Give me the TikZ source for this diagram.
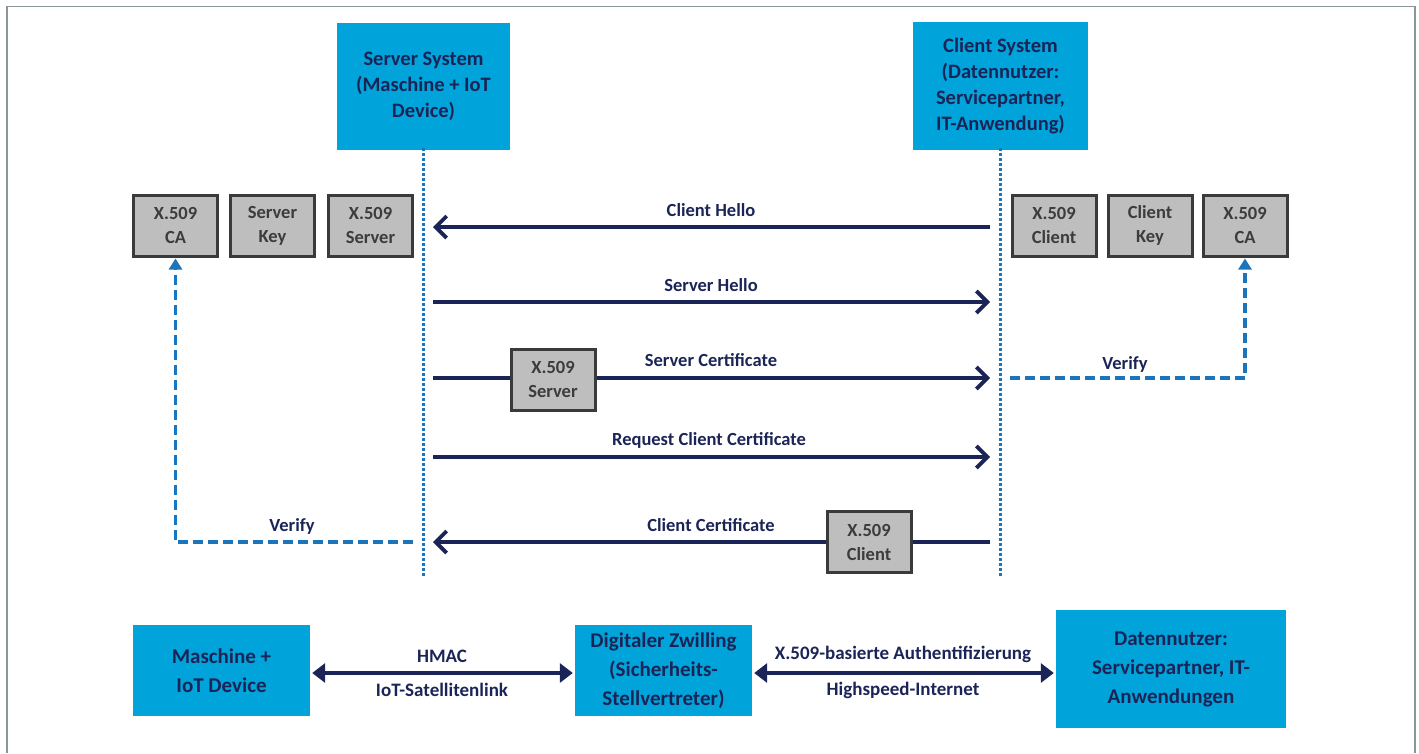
\documentclass[tikz,border=0pt]{standalone}
\usepackage{fontspec}
\setmainfont{Carlito}
\usetikzlibrary{arrows.meta}
\definecolor{cyanbox}{HTML}{00A3DA}
\definecolor{navy}{HTML}{1B2456}
\definecolor{grayfill}{HTML}{BEBEBE}
\definecolor{grayline}{HTML}{3A3A3A}
\definecolor{graytext}{HTML}{3C3C3C}
\definecolor{dashblue}{HTML}{1A75BC}
\definecolor{framegray}{HTML}{8C959A}
\begin{document}
\begin{tikzpicture}[x=1pt,y=-1pt,
  sysbox/.style={fill=cyanbox, draw=none, text=navy, align=center, inner sep=0pt,
    font=\bfseries\fontsize{20.5}{26}\selectfont},
  bottombox/.style={fill=cyanbox, draw=none, text=navy, align=center, inner sep=0pt,
    font=\bfseries\fontsize{21}{29}\selectfont},
  certbox/.style={fill=grayfill, draw=grayline, line width=3pt, text=graytext, align=center,
    inner sep=0pt, minimum width=84, minimum height=61,
    font=\bfseries\fontsize{18.5}{24}\selectfont},
  lifeline/.style={draw=dashblue, line width=3pt, dash pattern=on 2.5pt off 2.5pt},
  msg/.style={draw=navy, line width=3.8pt},
  msgtip/.style={-{Straight Barb[length=11pt,width=22pt,line width=3.8pt]}},
  verify/.style={draw=dashblue, line width=3.5pt, dash pattern=on 10pt off 5pt,
    -{Triangle[length=11pt,width=13pt]}},
  dbl/.style={draw=navy, line width=4.5pt, {Triangle[length=13pt,width=19pt]}-{Triangle[length=13pt,width=19pt]}},
  lbl/.style={text=navy, font=\bfseries\fontsize{18.5}{22}\selectfont, inner sep=0pt},
  blbl/.style={text=navy, font=\bfseries\fontsize{19}{22}\selectfont, inner sep=0pt}
]
\useasboundingbox (0,0) rectangle (1419,753);
\draw[framegray, line width=1.6pt] (7,753) -- (7,6.5) -- (1415,6.5) -- (1415,753);

% system boxes
\node[sysbox, minimum width=173, minimum height=127] (srv) at (423.5,86.5)
  {Server System\\(Maschine + IoT\\Device)};
\node[sysbox, minimum width=175, minimum height=128] (cli) at (1000.5,86)
  {Client System\\(Datennutzer:\\Servicepartner,\\IT-Anwendung)};

% lifelines
\coordinate (srvend) at (423.5,577);
\coordinate (cliend) at (1000.5,577);
\draw[lifeline] ([yshift=2pt]srv.south) -- (srvend);
\draw[lifeline] ([yshift=2pt]cli.south) -- (cliend);

% certificate boxes
\node[certbox] (caL) at (175.5,225.5) {X.509\\CA};
\node[certbox] (skey) at (272.5,225.5) {Server\\Key};
\node[certbox] (xsrv) at (370.5,225.5) {X.509\\Server};
\node[certbox] (xcli) at (1054,225.5) {X.509\\Client};
\node[certbox] (ckey) at (1150,225.5) {Client\\Key};
\node[certbox] (caR) at (1245,225.5) {X.509\\CA};

% message coordinates
\coordinate (s1) at (433,227); \coordinate (c1) at (990,227);
\coordinate (s2) at (433,302); \coordinate (c2) at (990,302);
\coordinate (s3) at (433,378); \coordinate (c3) at (990,378);
\coordinate (s4) at (433,457); \coordinate (c4) at (990,457);
\coordinate (s5) at (433,542); \coordinate (c5) at (990,542);

\draw[msg, msgtip] (c1) -- (s1);
\node[lbl] (l1) at (711,210) {Client Hello};
\draw[msg, msgtip] (s2) -- (c2);
\node[lbl] (l2) at (711,285) {Server Hello};
\draw[msg, msgtip] (s3) -- (c3);
\node[certbox] (xsrv2) at (553,379.5) {X.509\\Server};
\node[lbl] (l3) at (711,360) {Server Certificate};
\draw[msg, msgtip] (s4) -- (c4);
\node[lbl] (l4) at (709,440) {Request Client Certificate};
\draw[msg, msgtip] (c5) -- (s5);
\node[certbox] (xcli2) at (869,542) {X.509\\Client};
\node[lbl] (l5) at (711,525) {Client Certificate};

% verify
\coordinate (v1) at (413,542);
\coordinate (v2) at (1010,378);
\draw[verify] (v1) -| ([yshift=-1pt]caL.south);
\node[lbl] (vl1) at (292,526) {Verify};
\draw[verify] (v2) -| ([yshift=-1pt]caR.south);
\node[lbl] (vl2) at (1125,364) {Verify};

% bottom row
\node[bottombox, minimum width=177, minimum height=91] (mach) at (221.5,670.5)
  {Maschine +\\IoT Device};
\node[bottombox, minimum width=177, minimum height=91] (dz) at (663.5,670.5)
  {Digitaler Zwilling\\(Sicherheits-\\Stellvertreter)};
\node[bottombox, minimum width=230, minimum height=118] (dn) at (1171,669)
  {Datennutzer:\\Servicepartner, IT-\\Anwendungen};
\draw[dbl] ([xshift=2pt]mach.east |- 0,673) -- ([xshift=-2pt]dz.west |- 0,673);
\draw[dbl] ([xshift=2pt]dz.east |- 0,673) -- ([xshift=-2pt]dn.west |- 0,673);
\node[blbl] (h1) at (442,656) {HMAC};
\node[blbl] (h2) at (442,690) {IoT-Satellitenlink};
\node[blbl] (x1) at (903,654) {X.509-basierte Authentifizierung};
\node[blbl] (x2) at (903,690) {Highspeed-Internet};
\end{tikzpicture}
\end{document}
